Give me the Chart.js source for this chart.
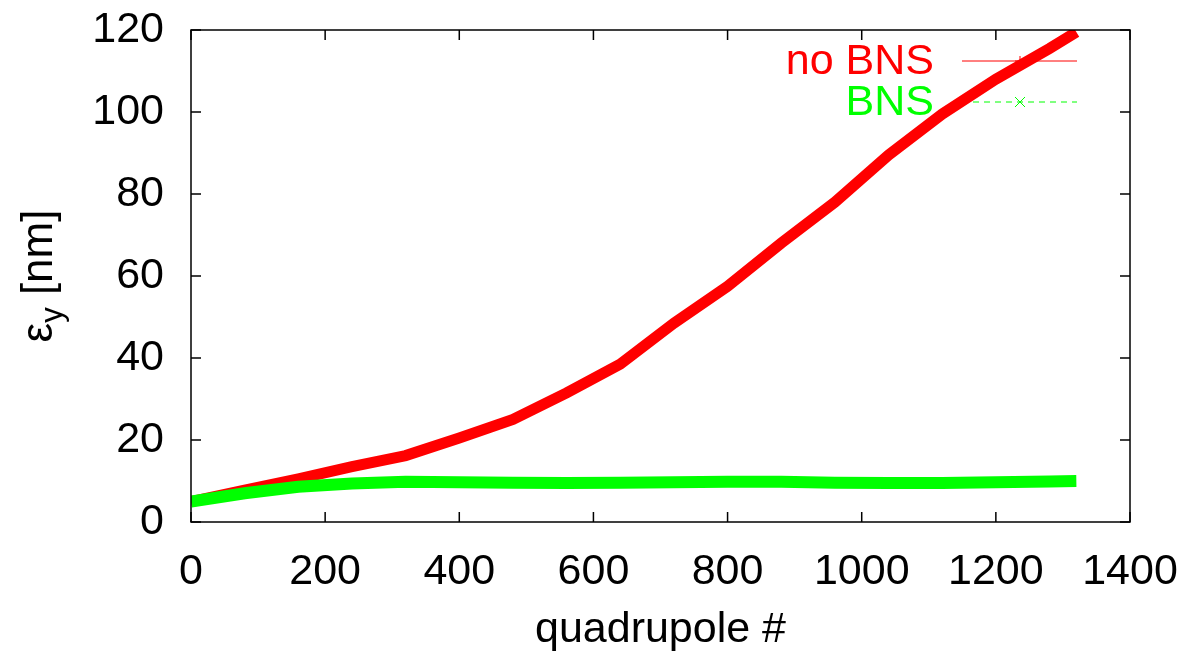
<!DOCTYPE html>
<html>
<head>
<meta charset="utf-8">
<script src="https://cdn.jsdelivr.net/npm/chart.js@4/dist/chart.umd.min.js"></script>
<style>
  html, body { margin: 0; padding: 0; background: #fff; }
  #wrap { width: 1196px; height: 654px; }
</style>
</head>
<body>
<div id="wrap"><canvas id="emitChart" width="1196" height="654"></canvas></div>
<script>
// ── Data ───────────────────────────────────────────────────
const quadX  = [0, 80, 160, 240, 320, 400, 480, 560, 640, 720, 800, 880, 960, 1040, 1120, 1200, 1280, 1320];
const noBns  = [5, 7.8, 10.5, 13.5, 16.2, 20.5, 25, 31.5, 38.5, 48.5, 57.5, 68, 78, 89.5, 99.5, 108, 115.5, 119.5];
const bns    = [5, 7, 8.6, 9.4, 9.8, 9.7, 9.6, 9.5, 9.6, 9.7, 9.8, 9.8, 9.6, 9.5, 9.5, 9.7, 9.9, 10];
const xTicks = [0, 200, 400, 600, 800, 1000, 1200, 1400];
const yTicks = [0, 20, 40, 60, 80, 100, 120];

const FONT = "'Liberation Sans', Arial, Helvetica, sans-serif";
const RED   = '#ff0000';
const GREEN = '#00ff00';

const toPts = ys => quadX.map((x, i) => ({ x, y: ys[i] }));

// gnuplot-style frame with inward ticks on all four sides
const framePlugin = {
  id: 'frame',
  afterDraw(chart) {
    const { ctx, chartArea: a, scales } = chart;
    ctx.save();
    ctx.strokeStyle = '#000';
    ctx.lineWidth = 1.5;
    ctx.strokeRect(a.left, a.top, a.right - a.left, a.bottom - a.top);
    const len = 10;
    ctx.beginPath();
    xTicks.forEach(v => {
      const px = scales.x.getPixelForValue(v);
      ctx.moveTo(px, a.bottom); ctx.lineTo(px, a.bottom - len);
      ctx.moveTo(px, a.top);    ctx.lineTo(px, a.top + len);
    });
    yTicks.forEach(v => {
      const py = scales.y.getPixelForValue(v);
      ctx.moveTo(a.left, py);  ctx.lineTo(a.left + len, py);
      ctx.moveTo(a.right, py); ctx.lineTo(a.right - len, py);
    });
    ctx.stroke();

    // y-axis title: ε with subscript y, then [nm]
    ctx.translate(40, (a.top + a.bottom) / 2);
    ctx.rotate(-Math.PI / 2);
    ctx.fillStyle = '#000';
    ctx.textBaseline = 'middle';
    ctx.textAlign = 'left';
    const big = `44px ${FONT}`, small = `31px ${FONT}`;
    ctx.font = big;   const w1 = ctx.measureText('ε').width;
    ctx.font = small; const w2 = ctx.measureText('y').width;
    ctx.font = big;   const w3 = ctx.measureText(' [nm]').width;
    let x = -(w1 + w2 + w3) / 2;
    ctx.font = big;   ctx.fillText('ε', x, 0); x += w1;
    ctx.font = small; ctx.fillText('y', x, 13); x += w2;
    ctx.font = big;   ctx.fillText(' [nm]', x, 0);
    ctx.restore();
  }
};

// key drawn like gnuplot's: text right-aligned, sample line with a marker
const keyPlugin = {
  id: 'gpKey',
  beforeDatasetsDraw(chart) {
    const { ctx } = chart;
    const rows = [
      { text: 'no BNS', color: RED,   y: 61,  dash: [],     mark: '+' },
      { text: 'BNS',    color: GREEN, y: 102, dash: [6, 5], mark: 'x' }
    ];
    ctx.save();
    ctx.font = `43px ${FONT}`;
    ctx.textAlign = 'right';
    ctx.textBaseline = 'middle';
    rows.forEach(r => {
      ctx.fillStyle = r.color;
      ctx.fillText(r.text, 934, r.y + 1);
      ctx.strokeStyle = r.color;
      ctx.lineWidth = 1;
      ctx.setLineDash(r.dash);
      ctx.beginPath();
      ctx.moveTo(962, r.y); ctx.lineTo(1077, r.y);
      ctx.stroke();
      ctx.setLineDash([]);
      const cx = 1020, s = 5;
      ctx.beginPath();
      if (r.mark === '+') {
        ctx.moveTo(cx - s, r.y); ctx.lineTo(cx + s, r.y);
        ctx.moveTo(cx, r.y - s); ctx.lineTo(cx, r.y + s);
      } else {
        ctx.moveTo(cx - s, r.y - s); ctx.lineTo(cx + s, r.y + s);
        ctx.moveTo(cx - s, r.y + s); ctx.lineTo(cx + s, r.y - s);
      }
      ctx.stroke();
    });
    ctx.restore();
  }
};

new Chart(document.getElementById('emitChart').getContext('2d'), {
  type: 'line',
  data: {
    datasets: [
      {
        label: 'no BNS',
        data: toPts(noBns),
        borderColor: RED,
        backgroundColor: RED,
        borderWidth: 11,
        pointRadius: 0,
        tension: 0,
        order: 2
      },
      {
        label: 'BNS',
        data: toPts(bns),
        borderColor: GREEN,
        backgroundColor: GREEN,
        borderWidth: 12,
        pointRadius: 0,
        tension: 0,
        order: 1
      }
    ]
  },
  options: {
    responsive: false,
    animation: false,
    layout: { padding: { top: 30, right: 66, left: 0, bottom: 0 } },
    plugins: {
      legend: { display: false },
      tooltip: { enabled: false }
    },
    scales: {
      x: {
        type: 'linear',
        min: 0, max: 1400,
        afterBuildTicks: s => { s.ticks = xTicks.map(v => ({ value: v })); },
        afterFit: s => { s.height = 132; s.paddingLeft = 0; s.paddingRight = 0; },
        grid: { display: false, drawTicks: false },
        border: { display: false },
        ticks: {
          color: '#000',
          font: { family: FONT, size: 43 },
          padding: 24,
          maxRotation: 0,
          callback: v => String(v)
        },
        title: {
          display: true,
          text: 'quadrupole #',
          color: '#000',
          font: { family: FONT, size: 43, lineHeight: 1.1 },
          padding: { top: 22, bottom: 0 }
        }
      },
      y: {
        min: 0, max: 120,
        afterBuildTicks: s => { s.ticks = yTicks.map(v => ({ value: v })); },
        afterFit: s => { s.width = 191; s.paddingTop = 0; s.paddingBottom = 0; },
        grid: { display: false, drawTicks: false },
        border: { display: false },
        ticks: { color: '#000', font: { family: FONT, size: 43 }, padding: 27 }
      }
    }
  },
  plugins: [framePlugin, keyPlugin]
});
</script>
</body>
</html>
